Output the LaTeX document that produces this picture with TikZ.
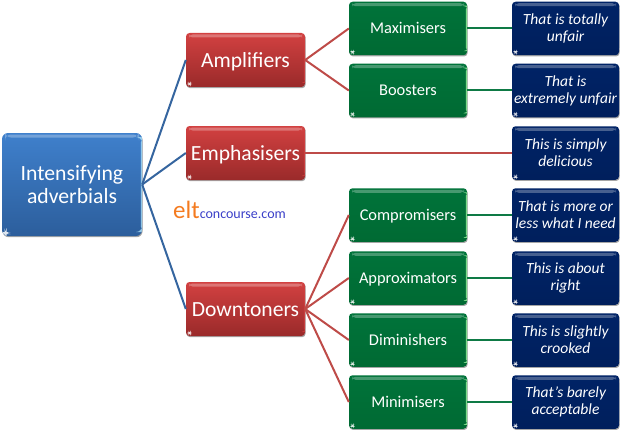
\documentclass[tikz,border=0pt]{standalone}
\usepackage{fontspec}
\setmainfont{Carlito}
\usetikzlibrary{shadows,calc}
\definecolor{redtop}{HTML}{D24141}
\definecolor{redbot}{HTML}{9A2A2A}
\definecolor{redline}{HTML}{BE4B48}
\definecolor{bluetop}{HTML}{3F80CC}
\definecolor{bluebot}{HTML}{2C5E9C}
\definecolor{blueline}{HTML}{35659F}
\definecolor{greentop}{HTML}{00733A}
\definecolor{greenbot}{HTML}{006A33}
\definecolor{greenline}{HTML}{0E7A45}
\definecolor{navytop}{HTML}{002366}
\definecolor{navybot}{HTML}{001F5C}
\tikzset{
  x=1pt,y=-1pt,
  gloss/.style={
    path picture={
      \fill[white,opacity=.28] ($(path picture bounding box.north west)+(3,1.5)$) rectangle ($(path picture bounding box.north east)+(-3,4.5)$);
      \fill[#1,opacity=.75] ($(path picture bounding box.north east)+(-1.2,4)$) rectangle ($(path picture bounding box.south east)+(0,-4)$);
      \fill[white,opacity=.85] ($(path picture bounding box.south west)+(2.5,-4)$) rectangle ($(path picture bounding box.south west)+(4.5,-2)$);
    }},
  box/.style={rounded corners=3.5pt,inner sep=0pt,align=center,text=white,
    drop shadow={shadow xshift=.6pt,shadow yshift=-1.2pt,opacity=.35,fill=black}},
  rootbox/.style={box,minimum width=140pt,minimum height=103pt,rounded corners=6pt,
    top color=bluetop,bottom color=bluebot,gloss=cyan!30,font=\fontsize{21.7}{23}\selectfont,
    execute at begin node={\rule{0pt}{18.5pt}}},
  redbox/.style={box,minimum width=119pt,minimum height=54pt,
    top color=redtop,bottom color=redbot,gloss=redtop,font=\fontsize{21.6}{23}\selectfont,
    execute at begin node={\rule[-6pt]{0pt}{27pt}}},
  greenbox/.style={box,minimum width=118pt,minimum height=53.5pt,
    top color=greentop,bottom color=greenbot,gloss=green!35,font=\fontsize{16.4}{19}\selectfont,
    execute at begin node={\rule[-5pt]{0pt}{20pt}}},
  navybox/.style={box,minimum width=107pt,minimum height=53.5pt,
    top color=navytop,bottom color=navybot,gloss=navytop,font=\fontsize{15.5}{17}\selectfont\itshape,
    execute at begin node={\rule{0pt}{17pt}}},
  redlink/.style={draw=redline,line width=2pt},
  bluelink/.style={draw=blueline,line width=2pt},
  greenlink/.style={draw=greenline,line width=2pt},
}
\begin{document}
\begin{tikzpicture}
\useasboundingbox (0,0) rectangle (620,433);
\node[rootbox] (root) at (72,184.5) {Intensifying\\adverbials};
\node[redbox] (amp) at (245.5,60) {Amplifiers};
\node[redbox] (emp) at (245.5,153) {Emphasisers};
\node[redbox] (down) at (245.5,309) {Downtoners};
\node[greenbox] (max) at (408,28.5) {Maximisers};
\node[greenbox] (boo) at (408,90.5) {Boosters};
\node[greenbox] (com) at (408,215) {Compromisers};
\node[greenbox] (app) at (408,278) {Approximators};
\node[greenbox] (dim) at (408,340) {Diminishers};
\node[greenbox] (mnm) at (408,402) {Minimisers};
\node[navybox] (ex1) at (565.5,28.5) {That is totally\\unfair};
\node[navybox] (ex2) at (565.5,90.5) {That is\\extremely unfair};
\node[navybox] (ex3) at (565.5,153) {This is simply\\delicious};
\node[navybox] (ex4) at (565.5,215) {That is more or\\less what I need};
\node[navybox] (ex5) at (565.5,278) {This is about\\right};
\node[navybox] (ex6) at (565.5,340) {This is slightly\\crooked};
\node[navybox] (ex7) at (565.5,402) {That’s barely\\acceptable};
\node[inner sep=0pt,anchor=base west] (logo) at (173,218) {\textcolor[HTML]{F47B20}{\fontsize{25}{25}\selectfont elt}\textcolor[HTML]{3A3FC8}{\fontsize{14}{14}\selectfont concourse.com}};
\foreach \a/\b in {root/amp,root/emp,root/down} \draw[bluelink] (\a.east) -- (\b.west);
\foreach \a/\b in {amp/max,amp/boo,emp/ex3,down/com,down/app,down/dim,down/mnm} \draw[redlink] (\a.east) -- (\b.west);
\foreach \a/\b in {max/ex1,boo/ex2,com/ex4,app/ex5,dim/ex6,mnm/ex7} \draw[greenlink] (\a.east) -- (\b.west);
\end{tikzpicture}
\end{document}
